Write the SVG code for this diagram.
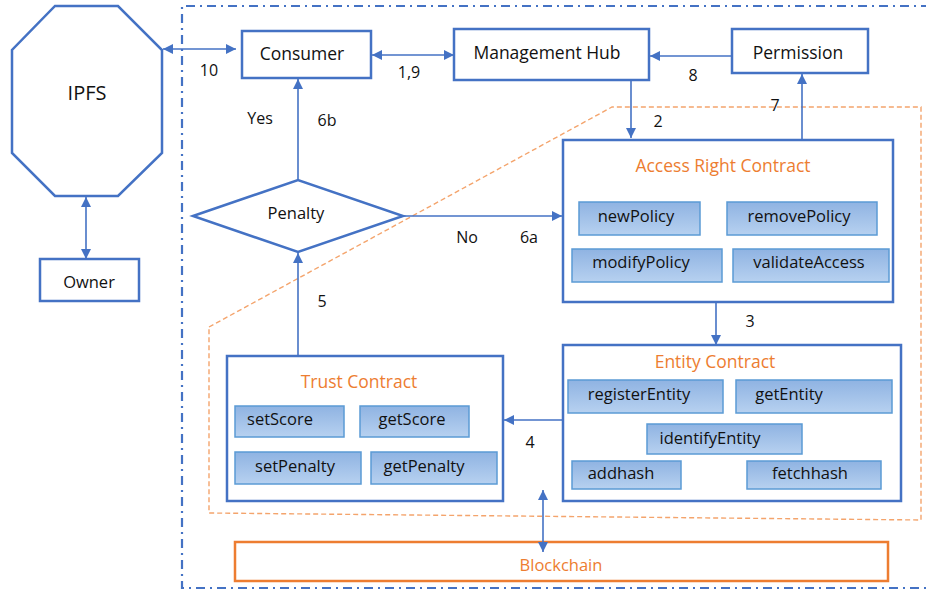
<svg xmlns="http://www.w3.org/2000/svg" width="926" height="594" viewBox="0 0 926 594">
  <style>
    .box { fill: #ffffff; stroke: #4472c4; stroke-width: 2.5; }
    .lbl { font-family: "Open Sans", "Noto Sans", sans-serif; font-size: 16.5px; fill: #111111; text-anchor: middle; dominant-baseline: central; }
    .big { font-size: 17.5px; }
    .title { font-family: "Open Sans", "Noto Sans", sans-serif; font-size: 17.5px; fill: #ed7d31; text-anchor: middle; dominant-baseline: central; }
    .num { font-family: "Open Sans", "Noto Sans", sans-serif; font-size: 16px; fill: #111111; text-anchor: middle; dominant-baseline: central; }
    .btn { fill: url(#btnFill); stroke: #5b9bd5; stroke-width: 1.5; }
    .btxt { font-family: "Open Sans", "Noto Sans", sans-serif; font-size: 16.5px; fill: #111111; text-anchor: middle; dominant-baseline: central; }
    .conn { stroke: #4472c4; stroke-width: 1.6; fill: none; marker-end: url(#head); }
    .both { marker-start: url(#head); }
  </style>
  <defs>
    <linearGradient id="btnFill" x1="0" y1="0" x2="0" y2="1">
      <stop offset="0" stop-color="#8fb3e2"/>
      <stop offset="1" stop-color="#b7d1f0"/>
    </linearGradient>
    <marker id="head" viewBox="0 0 10 10" refX="10" refY="5" markerWidth="11" markerHeight="10" markerUnits="userSpaceOnUse" orient="auto-start-reverse">
      <path d="M0,0 L10,5 L0,10 z" fill="#4472c4"/>
    </marker>
  </defs>

  <!-- system boundary (dash-dot) -->
  <path d="M930,6 L182,6 L182,588 L930,588" fill="none" stroke="#4472c4" stroke-width="2.2" stroke-dasharray="9,5,2,5"/>

  <!-- smart contract region (orange dashed) -->
  <polygon points="209,327 612,107 921,107 921,520 209,513" fill="none" stroke="#f4a46c" stroke-width="1.4" stroke-dasharray="5,3"/>

  <g id="ipfs">
    <polygon class="box" points="55,6 118,6 162,50 162,153 118,196 55,196 12,153 12,50"/>
    <text class="lbl" x="87" y="92" style="font-size:20px">IPFS</text>
  </g>

  <g id="owner">
    <rect class="box" x="40" y="259" width="99" height="42"/>
    <text class="lbl" x="89" y="281">Owner</text>
  </g>

  <g id="consumer">
    <rect class="box" x="242" y="31" width="129" height="47"/>
    <text class="lbl big" x="302" y="53">Consumer</text>
  </g>

  <g id="management-hub">
    <rect class="box" x="454" y="29" width="195" height="51"/>
    <text class="lbl big" x="547" y="52">Management Hub</text>
  </g>

  <g id="permission">
    <rect class="box" x="732" y="29" width="136" height="44"/>
    <text class="lbl big" x="798" y="52">Permission</text>
  </g>

  <g id="penalty">
    <polygon class="box" points="193,216 298,180 403,216 298,252"/>
    <text class="lbl" x="296" y="212">Penalty</text>
  </g>

  <g id="access-right-contract">
    <rect class="box" x="563" y="140" width="330" height="162"/>
    <text class="title" x="723" y="165">Access Right Contract</text>
    <rect class="btn" x="579" y="202" width="121" height="33"/>
    <text class="btxt" x="636" y="215">newPolicy</text>
    <rect class="btn" x="727" y="202" width="150" height="33"/>
    <text class="btxt" x="799" y="215">removePolicy</text>
    <rect class="btn" x="572" y="249" width="150" height="33"/>
    <text class="btxt" x="641" y="261">modifyPolicy</text>
    <rect class="btn" x="733" y="249" width="156" height="33"/>
    <text class="btxt" x="809" y="261">validateAccess</text>
  </g>

  <g id="entity-contract">
    <rect class="box" x="563" y="345" width="338" height="156"/>
    <text class="title" x="715" y="361">Entity Contract</text>
    <rect class="btn" x="568" y="380" width="155" height="33"/>
    <text class="btxt" x="639" y="393">registerEntity</text>
    <rect class="btn" x="736" y="380" width="156" height="33"/>
    <text class="btxt" x="789" y="393">getEntity</text>
    <rect class="btn" x="647" y="424" width="155" height="30"/>
    <text class="btxt" x="710" y="437">identifyEntity</text>
    <rect class="btn" x="572" y="461" width="109" height="28"/>
    <text class="btxt" x="621" y="472">addhash</text>
    <rect class="btn" x="747" y="461" width="134" height="28"/>
    <text class="btxt" x="810" y="472">fetchhash</text>
  </g>

  <g id="trust-contract">
    <rect class="box" x="227" y="356" width="276" height="145"/>
    <text class="title" x="359" y="381">Trust Contract</text>
    <rect class="btn" x="235" y="406" width="109" height="31"/>
    <text class="btxt" x="280" y="418">setScore</text>
    <rect class="btn" x="360" y="406" width="109" height="31"/>
    <text class="btxt" x="412" y="418">getScore</text>
    <rect class="btn" x="235" y="452" width="126" height="32"/>
    <text class="btxt" x="295" y="465">setPenalty</text>
    <rect class="btn" x="371" y="452" width="126" height="32"/>
    <text class="btxt" x="424" y="465">getPenalty</text>
  </g>

  <g id="blockchain">
    <rect x="235" y="542" width="653" height="39" fill="#ffffff" stroke="#ed7d31" stroke-width="2.5"/>
    <text class="title" x="561" y="564" style="font-size:16.5px">Blockchain</text>
  </g>

  <!-- connectors -->
  <g id="connectors">
    <line class="conn both" x1="163" y1="49" x2="236" y2="49"/>
    <line class="conn both" x1="86" y1="197" x2="86" y2="259"/>
    <line class="conn both" x1="372" y1="55" x2="454" y2="55"/>
    <line class="conn" x1="732" y1="56" x2="650" y2="56"/>
    <line class="conn" x1="631" y1="80" x2="631" y2="138"/>
    <line class="conn" x1="802" y1="140" x2="802" y2="74"/>
    <line class="conn" x1="298" y1="180" x2="298" y2="79"/>
    <line class="conn" x1="403" y1="216" x2="562" y2="216"/>
    <line class="conn" x1="298" y1="356" x2="298" y2="253"/>
    <line class="conn" x1="716" y1="302" x2="716" y2="345"/>
    <line class="conn" x1="563" y1="420" x2="504" y2="420"/>
    <line class="conn both" x1="543" y1="490" x2="543" y2="552"/>
  </g>

  <!-- connector labels -->
  <g id="labels">
    <text class="num" x="209" y="70">10</text>
    <text class="num" x="409" y="72">1,9</text>
    <text class="num" x="693" y="75">8</text>
    <text class="num" x="658" y="121">2</text>
    <text class="num" x="775" y="105">7</text>
    <text class="num" x="260" y="118">Yes</text>
    <text class="num" x="327" y="120">6b</text>
    <text class="num" x="467" y="237">No</text>
    <text class="num" x="529" y="237">6a</text>
    <text class="num" x="322" y="301">5</text>
    <text class="num" x="750" y="321">3</text>
    <text class="num" x="530" y="442">4</text>
  </g>
</svg>
